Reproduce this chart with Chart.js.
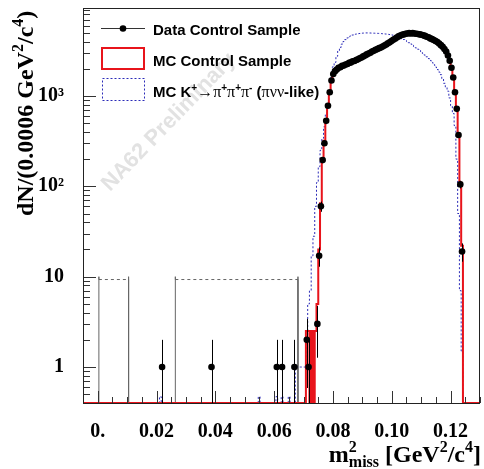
<!DOCTYPE html>
<html>
<head>
<meta charset="utf-8">
<script src="https://cdn.jsdelivr.net/npm/chart.js@4.4.1/dist/chart.umd.min.js"></script>
<style>
  html, body { margin: 0; padding: 0; background: #fff; }
</style>
</head>
<body>
<canvas id="mmissChart" width="484" height="469"></canvas>
<script>
// axis ranges and tick labels
const xMin = -0.005, xMax = 0.13;
const yMin = 0.4, yMax = 9400;
const xMajorTicks = [0, 0.02, 0.04, 0.06, 0.08, 0.10, 0.12];
const yMajorTicks = [1, 10, 100, 1000];
const yTickLabels = ['1', '10', '10²', '10³'];

const binWidth = 0.0006;

// data control sample: isolated entries below the signal region (bin centres)
const dataSparseX = [0.0219, 0.0387, 0.0609, 0.0627, 0.0669, 0.0711, 0.0717, 0.0747];
const dataSparseN = [1, 1, 1, 1, 1, 2, 1, 3];
// data control sample: consecutive bins, first centre at 0.0753
const dataFirstCentre = 0.0753;
const dataCounts = [
  17, 60, 195, 300, 530, 780, 1100, 1480, 1750, 1880,
  1960, 2050, 2080, 2150, 2170, 2230, 2260, 2320, 2350, 2420,
  2440, 2500, 2540, 2610, 2660, 2740, 2800, 2880, 2950, 3010,
  3100, 3160, 3240, 3300, 3380, 3440, 3520, 3610, 3700, 3820,
  3930, 4050, 4180, 4300, 4420, 4560, 4650, 4740, 4800, 4870,
  4900, 4950, 4920, 4950, 4900, 4880, 4850, 4800, 4760, 4680,
  4620, 4520, 4450, 4330, 4250, 4150, 4050, 3950, 3800, 3650,
  3500, 3300, 3100, 2800, 2450, 2050, 1600, 1100, 720, 370,
  105, 19
];

// MC control sample, first bin low edge at 0.0708
const redFirstEdge = 0.0708;
const redCounts = [
  2.5, 2.5, 0, 2.5, 0, 2.5, 5,
  20, 65, 190, 320, 520, 800, 1120, 1480, 1760, 1900,
  1990, 2040, 2100, 2130, 2180, 2210, 2250, 2300, 2350, 2400,
  2450, 2500, 2560, 2610, 2680, 2740, 2820, 2890, 2960, 3030,
  3100, 3170, 3250, 3320, 3390, 3460, 3540, 3620, 3720, 3830,
  3950, 4070, 4200, 4320, 4450, 4560, 4660, 4740, 4810, 4860,
  4900, 4930, 4940, 4930, 4910, 4880, 4850, 4800, 4740, 4670,
  4600, 4520, 4430, 4340, 4240, 4140, 4040, 3930, 3800, 3650,
  3490, 3310, 3100, 2820, 2470, 2080, 1620, 1120, 730, 380,
  110, 22
];

// MC K+ -> pi+ pi+ pi- (pi nu nu - like)
const blueBumpEdges = [0.0210, 0.0546, 0.0606, 0.0624, 0.0648];
const blueBumpCounts = [0.47, 0.47, 0.47, 0.47, 0.47];
const blueFirstEdge = 0.0672;
const blueCounts = [
  1, 1, 1, 1, 1, 1, 2, 5, 7, 17, 28,
  60, 110, 165, 250, 340, 455, 620, 830, 1150, 1600,
  2100, 2350, 2750, 3150, 3450, 3750, 4000, 4200, 4380, 4520,
  4630, 4720, 4790, 4840, 4880, 4910, 4940, 4960, 4970, 4980,
  4980, 4970, 4960, 4950, 4940, 4930, 4920, 4900, 4880, 4860,
  4840, 4810, 4780, 4740, 4700, 4640, 4560, 4480, 4390, 4300,
  4210, 4110, 4000, 3880, 3760, 3640, 3520, 3400, 3290, 3180,
  3070, 2950, 2830, 2710, 2590, 2470, 2350, 2220, 2090, 1960,
  1840, 1720, 1550, 1380, 1250, 1130, 950, 780, 640, 470,
  200, 50, 7, 1.5
];

// grey dashed weighted histogram at low m2miss
const greyBins = [[0.0004, 0.0105], [0.0264, 0.0681]];
const greyLevel = 9.3;
const greyWhisker = 10;

const serif = '"Liberation Serif", "Times New Roman", serif';
const sans = '"Liberation Sans", Arial, sans-serif';

// empty bins are drawn on the axis floor, like ROOT does
const floor = v => (v > 0 ? v : yMin);

// build the point lists
const dataPoints = [];
dataSparseX.forEach((x, i) => dataPoints.push({ x: x, y: dataSparseN[i] }));
dataCounts.forEach((n, i) => dataPoints.push({ x: dataFirstCentre + i * binWidth, y: n }));

const redPoints = [{ x: xMin, y: yMin }];
redCounts.forEach((n, i) => redPoints.push({ x: redFirstEdge + i * binWidth, y: floor(n) }));
redPoints.push({ x: redFirstEdge + redCounts.length * binWidth, y: yMin });
redPoints.push({ x: xMax, y: yMin });

const bluePoints = [{ x: xMin, y: yMin }];
blueBumpEdges.forEach((e, i) => {
  bluePoints.push({ x: e, y: blueBumpCounts[i] });
  bluePoints.push({ x: e + binWidth, y: yMin });
});
blueCounts.forEach((n, i) => bluePoints.push({ x: blueFirstEdge + i * binWidth, y: floor(n) }));
bluePoints.push({ x: blueFirstEdge + blueCounts.length * binWidth, y: yMin });
bluePoints.push({ x: xMax, y: yMin });

const greyPoints = [];
greyBins.forEach(b => {
  greyPoints.push({ x: b[0], y: yMin }, { x: b[0], y: greyWhisker }, { x: b[0], y: greyLevel },
                  { x: b[1], y: greyLevel }, { x: b[1], y: greyWhisker }, { x: b[1], y: yMin },
                  { x: b[1] + 0.001, y: null });
});

// text with super/subscripts
function drawRich(ctx, parts, x, y, align) {
  let w = 0;
  parts.forEach(p => {
    ctx.font = p.font;
    p.w = ctx.measureText(p.t).width;
    w += (p.adv === 0 ? 0 : p.w);
  });
  let cx = align === 'right' ? x - w : x;
  parts.forEach(p => {
    ctx.font = p.font;
    ctx.fillText(p.t, cx, y + (p.dy || 0));
    if (p.adv !== 0) cx += p.w;
  });
}

const rootStyle = {
  id: 'rootStyle',
  beforeDatasetsDraw(chart) {
    const ctx = chart.ctx;
    // watermark
    ctx.save();
    ctx.translate(110, 192);
    ctx.rotate(-46 * Math.PI / 180);
    ctx.fillStyle = '#e2e2e2';
    ctx.font = 'bold 22px ' + sans;
    ctx.textBaseline = 'alphabetic';
    ctx.fillText('NA62 Preliminary', 0, 0);
    ctx.restore();
  },
  afterDatasetsDraw(chart) {
    const ctx = chart.ctx;
    const xs = chart.scales.x, ys = chart.scales.y;
    const a = chart.chartArea;

    // error bars for the data
    ctx.save();
    ctx.beginPath();
    ctx.rect(a.left, a.top, a.right - a.left, a.bottom - a.top);
    ctx.clip();
    ctx.strokeStyle = '#000';
    ctx.lineWidth = 1;
    dataPoints.forEach(p => {
      const err = Math.sqrt(p.y);
      const lo = p.y - err > yMin ? p.y - err : yMin;
      const px = Math.round(xs.getPixelForValue(p.x)) + 0.5;
      ctx.beginPath();
      ctx.moveTo(px, ys.getPixelForValue(lo));
      ctx.lineTo(px, ys.getPixelForValue(p.y + err));
      ctx.stroke();
    });
    ctx.restore();

    // ticks, ROOT style (inside the frame)
    ctx.save();
    ctx.strokeStyle = '#333';
    ctx.lineWidth = 1;
    ctx.beginPath();
    for (let k = 0; k <= 27; k++) {
      const v = -0.005 + k * 0.005;
      if (v > xMax + 1e-9) break;
      const major = xMajorTicks.some(t => Math.abs(t - v) < 1e-6);
      const px = Math.round(xs.getPixelForValue(v)) + 0.5;
      ctx.moveTo(px, a.bottom);
      ctx.lineTo(px, a.bottom - (major ? 12 : 6));
    }
    for (let d = -1; d <= 3; d++) {
      for (let m = 1; m <= 9; m++) {
        const v = m * Math.pow(10, d);
        if (v < yMin || v > yMax) continue;
        const py = Math.round(ys.getPixelForValue(v)) + 0.5;
        ctx.moveTo(a.left, py);
        ctx.lineTo(a.left + (m === 1 ? 13 : 7), py);
      }
    }
    ctx.stroke();
    // frame
    ctx.strokeStyle = '#222';
    ctx.strokeRect(Math.round(a.left) + 0.5, Math.round(a.top) + 0.5,
                   Math.round(a.right - a.left) - 1, Math.round(a.bottom - a.top));
    ctx.restore();
  },
  afterDraw(chart) {
    const ctx = chart.ctx;
    ctx.save();
    ctx.fillStyle = '#000';
    ctx.textBaseline = 'alphabetic';

    // legend
    const tx = 153;
    ctx.strokeStyle = '#333';
    ctx.lineWidth = 1;
    ctx.beginPath();
    ctx.moveTo(101, 28.5);
    ctx.lineTo(145, 28.5);
    ctx.stroke();
    ctx.beginPath();
    ctx.arc(123, 28.5, 3.3, 0, Math.PI * 2);
    ctx.fill();
    ctx.font = 'bold 15px ' + sans;
    ctx.fillText('Data Control Sample', tx, 35);

    ctx.strokeStyle = '#e8141b';
    ctx.lineWidth = 2;
    ctx.strokeRect(102, 48, 42, 21);
    ctx.fillText('MC Control Sample', tx, 66);

    ctx.strokeStyle = '#2b2bb8';
    ctx.lineWidth = 1;
    ctx.setLineDash([2, 2]);
    ctx.strokeRect(102.5, 78.5, 42, 22);
    ctx.setLineDash([]);
    const b15 = 'bold 15px ' + sans;
    const sup = 'bold 10px ' + sans;
    const sym = '16px ' + serif;
    drawRich(ctx, [
      { t: 'MC K', font: b15 },
      { t: '+', font: sup, dy: -6 },
      { t: '→', font: sym },
      { t: 'π', font: sym },
      { t: '+', font: sup, dy: -6 },
      { t: 'π', font: sym },
      { t: '+', font: sup, dy: -6 },
      { t: 'π', font: sym },
      { t: '-', font: sup, dy: -6 },
      { t: ' (', font: b15 },
      { t: 'πνν', font: sym },
      { t: '-like)', font: b15 }
    ], tx, 97, 'left');

    // axis titles
    const t24 = 'bold 24px ' + serif;
    const t16 = 'bold 16px ' + serif;
    drawRich(ctx, [
      { t: 'm', font: t24 },
      { t: '2', font: t16, dy: -10, adv: 0 },
      { t: 'miss', font: t16, dy: 5 },
      { t: ' [GeV', font: t24 },
      { t: '2', font: t16, dy: -10 },
      { t: '/c', font: t24 },
      { t: '4', font: t16, dy: -10 },
      { t: ']', font: t24 }
    ], 481, 462, 'right');

    ctx.translate(33, 216);
    ctx.rotate(-Math.PI / 2);
    drawRich(ctx, [
      { t: 'dN/(0.0006 GeV', font: t24 },
      { t: '2', font: t16, dy: -10 },
      { t: '/c', font: t24 },
      { t: '4', font: t16, dy: -10 },
      { t: ')', font: t24 }
    ], 0, 0, 'left');
    ctx.restore();
  }
};

// drop the label overflow padding Chart.js adds around the plot
function fixPadding(axis) {
  axis.paddingTop = 0;
  axis.paddingBottom = 0;
  axis.paddingLeft = 0;
  axis.paddingRight = 0;
}

const ctx = document.getElementById('mmissChart').getContext('2d');

const mmissChart = new Chart(ctx, {
  type: 'line',
  data: {
    datasets: [
      {
        label: 'Data Control Sample',
        data: dataPoints,
        showLine: false,
        pointRadius: 3.3,
        pointBackgroundColor: '#000',
        pointBorderColor: '#000',
        pointBorderWidth: 0
      },
      {
        label: 'MC Control Sample',
        data: redPoints,
        stepped: 'before',
        borderColor: '#e8141b',
        borderWidth: 2,
        pointRadius: 0,
        fill: false
      },
      {
        label: 'MC K+ -> pi+ pi+ pi-',
        data: bluePoints,
        stepped: 'before',
        borderColor: '#2b2bb8',
        borderWidth: 1,
        borderDash: [2, 2],
        pointRadius: 0,
        fill: false
      },
      {
        label: 'weighted',
        data: greyPoints,
        borderColor: '#666',
        borderWidth: 1,
        pointRadius: 0,
        spanGaps: false,
        segment: {
          borderDash: c => (c.p0.parsed.x === c.p1.parsed.x ? [] : [3, 3])
        }
      }
    ]
  },
  options: {
    responsive: false,
    devicePixelRatio: 1,
    animation: false,
    layout: { padding: { top: 8, right: 1.5, left: 0, bottom: 0 } },
    plugins: {
      legend: { display: false },
      tooltip: { enabled: false }
    },
    scales: {
      x: {
        type: 'linear',
        min: xMin,
        max: xMax,
        grid: { display: false },
        border: { display: false },
        afterBuildTicks: axis => { axis.ticks = xMajorTicks.map(v => ({ value: v })); },
        afterFit: axis => { axis.height = 66; fixPadding(axis); },
        ticks: {
          autoSkip: false,
          maxRotation: 0,
          padding: 9,
          color: '#000',
          font: { family: serif, size: 20, weight: 'bold' },
          callback: v => (v === 0 ? '0.' : Number(v).toFixed(2))
        }
      },
      y: {
        type: 'logarithmic',
        min: yMin,
        max: yMax,
        grid: { display: false },
        border: { display: false },
        afterBuildTicks: axis => { axis.ticks = yMajorTicks.map(v => ({ value: v })); },
        afterFit: axis => { axis.width = 83; fixPadding(axis); },
        ticks: {
          autoSkip: false,
          padding: 11,
          color: '#000',
          font: { family: serif, size: 20, weight: 'bold' },
          callback: v => yTickLabels[yMajorTicks.indexOf(v)]
        }
      }
    }
  },
  plugins: [rootStyle]
});
</script>
</body>
</html>
